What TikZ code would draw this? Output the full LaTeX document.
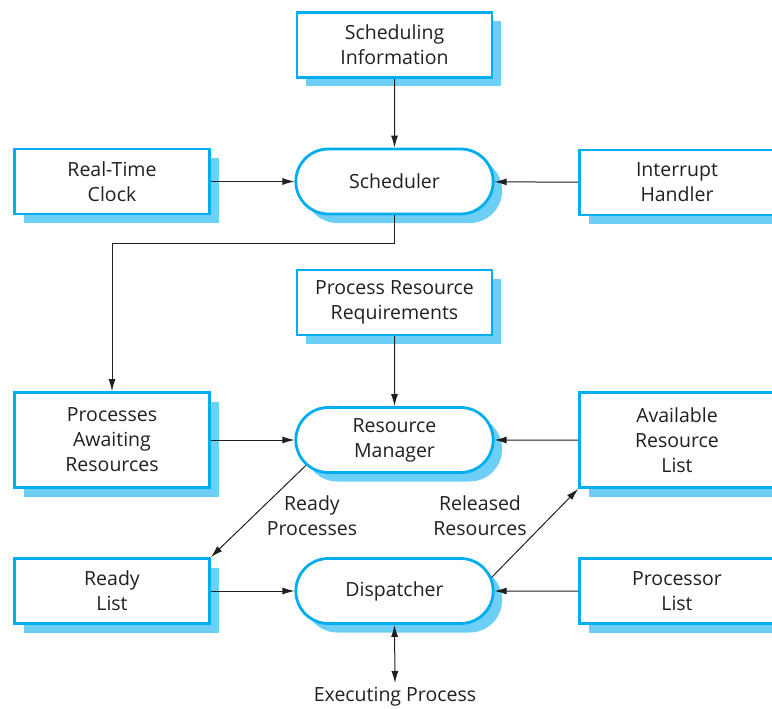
\documentclass[tikz,border=0pt]{standalone}
\usepackage{fontspec}
\setmainfont{Open Sans}
\usetikzlibrary{shapes.misc,shadows,arrows.meta}
\definecolor{edgeblue}{HTML}{00AEEF}
\definecolor{shadeblue}{HTML}{6DCFF6}
\definecolor{ink}{HTML}{231F20}
\tikzset{
  base/.style={draw=edgeblue, line width=2.8pt, fill=white, align=center,
    text=ink, font=\fontsize{19.5}{25}\selectfont,
    drop shadow={shadow xshift=9pt, shadow yshift=-9pt, fill=shadeblue, opacity=1}},
  sqbox/.style={base, rectangle, minimum width=195pt, minimum height=65pt},
  tallbox/.style={sqbox, minimum height=95pt},
  procbox/.style={base, rounded rectangle, minimum width=204pt, minimum height=65pt},
  lbl/.style={align=center, text=ink, font=\fontsize{19.5}{25}\selectfont},
  conn/.style={draw=ink, line width=1pt, -{Latex[length=12pt,width=7pt]}},
}
\begin{document}
\begin{tikzpicture}[x=1pt,y=-1pt]
\useasboundingbox (0,0) rectangle (772,709);
\node[sqbox] (si) at (394.5,45) {Scheduling\\Information};
\node[sqbox] (rtc) at (112,181.5) {Real-Time\\Clock};
\node[procbox] (sch) at (394.5,181.5) {Scheduler};
\node[sqbox] (ih) at (677,182.5) {Interrupt\\Handler};
\node[sqbox] (prr) at (394.5,302.5) {Process Resource\\Requirements};
\node[tallbox] (par) at (112,440) {Processes\\Awaiting\\Resources};
\node[procbox] (rm) at (394.5,440) {Resource\\Manager};
\node[tallbox] (arl) at (677,440) {Available\\Resource\\List};
\node[sqbox] (rl) at (112,591) {Ready\\List};
\node[procbox] (dsp) at (394.5,591) {Dispatcher};
\node[sqbox] (pl) at (677,591) {Processor\\List};
\node[lbl] (ep) at (395,697) {Executing Process};
\node[lbl] (rp) at (312,516) {Ready\\Processes};
\node[lbl] (rr) at (480,516) {Released\\Resources};
\coordinate (bend1) at (394.5,243);
\coordinate (bend2) at (112,243);
\coordinate (eptop) at (395,683);
\draw[conn] (si) -- (sch);
\draw[conn] (rtc) -- (sch);
\draw[conn] (ih) -- (sch);
\draw[conn] (sch.south) -- (bend1) -- (bend2) -- (par.north);
\draw[conn] (prr) -- (rm);
\draw[conn] (par) -- (rm);
\draw[conn] (arl) -- (rm);
\draw[conn] (rm.196) -- (rl.north east);
\draw[conn] (dsp.8) -- (arl.south west);
\draw[conn] (rl) -- (dsp);
\draw[conn] (pl) -- (dsp);
\draw[conn, {Latex[length=12pt,width=7pt]}-{Latex[length=12pt,width=7pt]}] (dsp.south) -- (eptop);
\end{tikzpicture}
\end{document}
